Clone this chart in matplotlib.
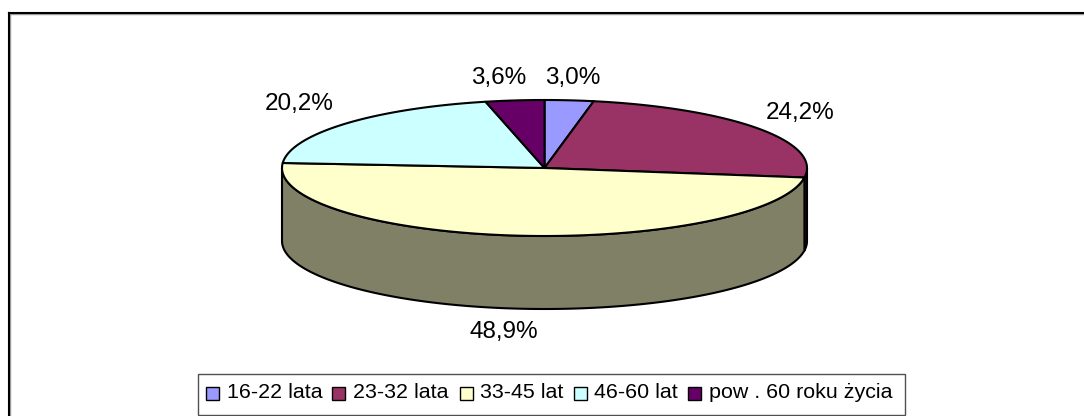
import numpy as np
import matplotlib
matplotlib.use('Agg')
import matplotlib.pyplot as plt
from matplotlib.patches import Polygon, Rectangle

labels = ['16-22 lata', '23-32 lata', '33-45 lat', '46-60 lat', 'pow . 60 roku życia']
values = [3.0, 24.2, 48.9, 20.2, 3.6]
value_text = ['3,0%', '24,2%', '48,9%', '20,2%', '3,6%']
top_colors = ['#9999FF', '#993366', '#FFFFCC', '#CCFFFF', '#660066']
side_colors = ['#4D4D80', '#660033', '#808066', '#668080', '#330033']

plt.rcParams['font.family'] = ['Liberation Sans', 'DejaVu Sans']

W, H = 1084, 416
fig = plt.figure(figsize=(W / 100, H / 100), dpi=100)
ax = fig.add_axes([0, 0, 1, 1])
ax.set_xlim(0, W)
ax.set_ylim(H, 0)
ax.axis('off')

# chart frame: only top and left edges are inside the image
ax.plot([9.5, 9.5], [H, 14], color='#A0A0A0', lw=1)
ax.plot([9.5, W], [14, 14], color='#A0A0A0', lw=1)
ax.plot([8.5, 8.5], [H, 12.5], color='black', lw=1.5, solid_capstyle='projecting')
ax.plot([8.5, W], [12.5, 12.5], color='black', lw=1.5, solid_capstyle='projecting')

cx, cy, rx, ry, depth = 544.5, 168, 262.5, 68, 73


def ell(theta):
    return cx + rx * np.sin(theta), cy - ry * np.cos(theta)


fracs = np.array(values) / sum(values)
edges = np.concatenate([[0], np.cumsum(fracs)]) * 2 * np.pi

# side walls first: only the front half of the ellipse shows
for i in range(len(values)):
    a = max(edges[i], np.pi / 2)
    b = min(edges[i + 1], 3 * np.pi / 2)
    if b <= a:
        continue
    t = np.linspace(a, b, 200)
    x, y = ell(t)
    pts = np.vstack([np.column_stack([x, y]), np.column_stack([x[::-1], y[::-1] + depth])])
    ax.add_patch(Polygon(pts, fc=side_colors[i], ec='black', lw=1.5, joinstyle='round'))

# top face
for i in range(len(values)):
    t = np.linspace(edges[i], edges[i + 1], 200)
    x, y = ell(t)
    pts = np.vstack([[cx, cy], np.column_stack([x, y])])
    ax.add_patch(Polygon(pts, fc=top_colors[i], ec='black', lw=1.5, joinstyle='round'))

label_pos = [(573, 78), (800, 113), (504, 332), (299, 104), (499, 78)]
for txt, (lx, ly) in zip(value_text, label_pos):
    ax.text(lx, ly, txt, ha='center', va='center', fontsize=17.5, color='black')

# legend drawn by hand to keep the tight spacing of the original
ax.add_patch(Rectangle((198, 374), 707, 41, fc='white', ec='#505050', lw=1))
swatch_x = [206, 332, 460, 574, 688]
text_x = [227, 353, 480, 594, 709]
for sx, tx, lab, col in zip(swatch_x, text_x, labels, top_colors):
    ax.add_patch(Rectangle((sx, 387), 13, 13, fc=col, ec='black', lw=1))
    ax.text(tx, 393, lab, ha='left', va='center', fontsize=15.4, color='black')

fig.savefig('out.png', dpi=100)
